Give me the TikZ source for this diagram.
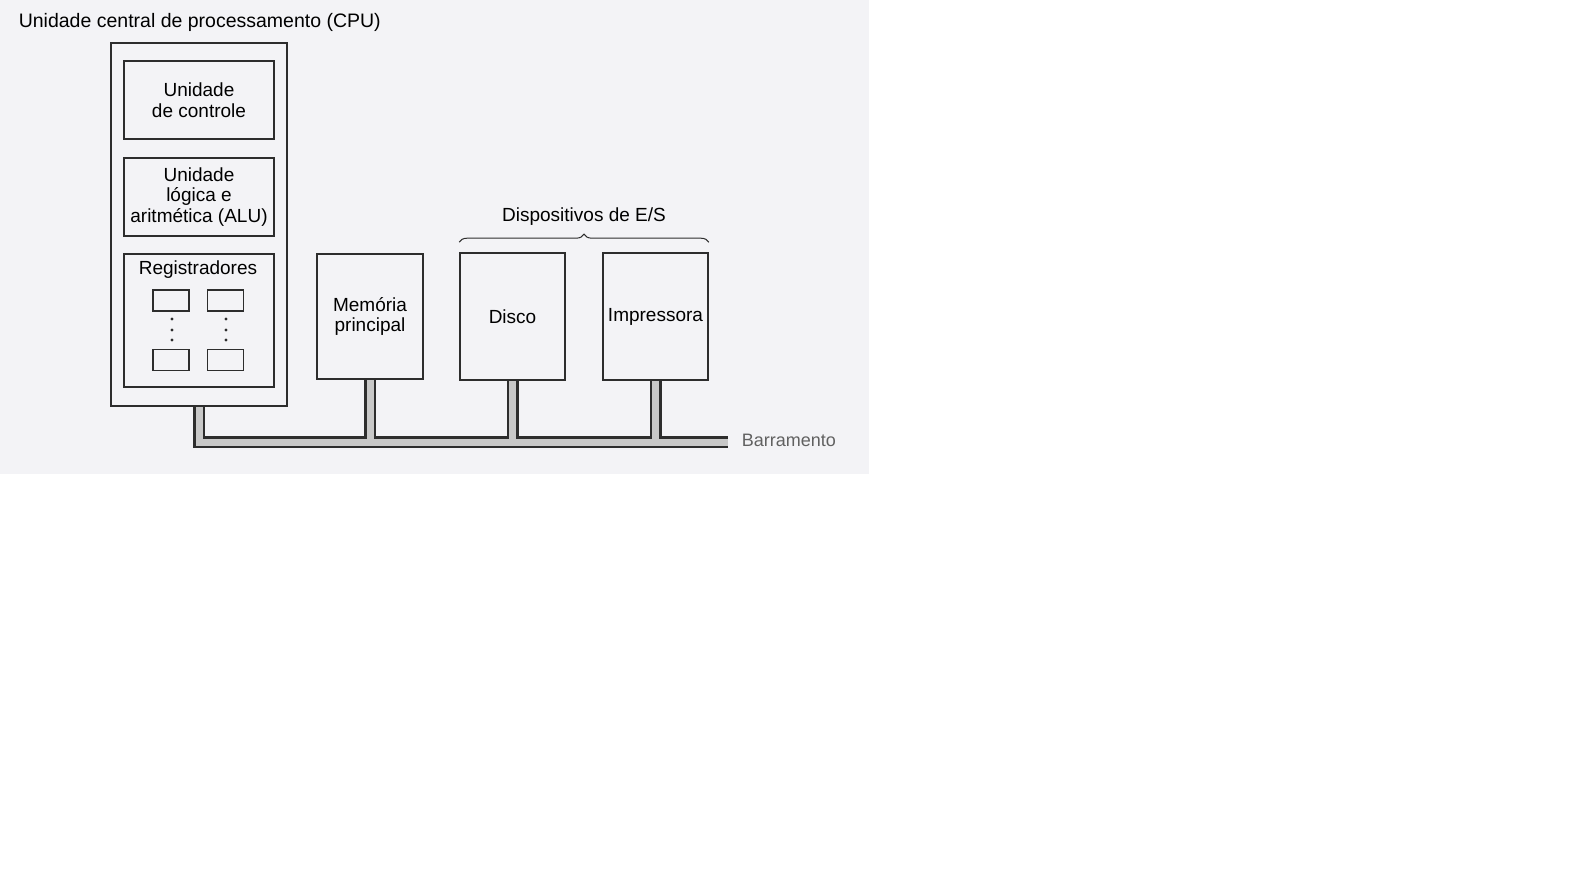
\documentclass[tikz,border=0pt]{standalone}
\usepackage{fontspec}
\setmainfont{Liberation Sans}
\usetikzlibrary{decorations.pathreplacing,backgrounds}
\definecolor{scan}{RGB}{243,243,246}
\definecolor{ink}{RGB}{45,45,45}
\definecolor{busfill}{RGB}{200,200,200}
\tikzset{every picture/.style={line width=1.6pt}}
\tikzset{
  unitbox/.style={draw=ink, fill=scan, inner sep=0pt, align=center, font=\fontsize{19}{20.5}\selectfont},
  regbox/.style={draw=ink, fill=scan, inner sep=0pt, minimum width=36pt, minimum height=21pt},
  txt/.style={inner sep=0pt, align=center, font=\fontsize{19}{20.5}\selectfont},
  busout/.style={draw=ink, line width=12pt},
  busin/.style={draw=busfill, line width=7pt}
}

\begin{document}
\begin{tikzpicture}[x=1pt,y=1pt,yscale=-1]
\useasboundingbox (0,0) rectangle (1582,874);

% CPU and its units
\node[unitbox, minimum width=176pt, minimum height=363pt] (cpu) at (199,224.5) {};
\node[unitbox, minimum width=150pt, minimum height=78pt] (ctrl) at (199,100) {Unidade\\de controle};
\node[unitbox, minimum width=150pt, minimum height=78pt] (alu) at (199,197) {Unidade\\lógica e\\aritmética (ALU)};
\node[unitbox, minimum width=150pt, minimum height=133pt] (regs) at (199,320.5) {};
\node[txt] (regslbl) at (198,270) {Registradores};

% registers
\node[regbox] (rega) at (171,300.5) {};
\node[regbox] (regb) at (225.5,300.5) {};
\node[regbox] (regc) at (171,360) {};
\node[regbox] (regd) at (225.5,360) {};
\foreach \yy in {319,330,340}{
  \fill[ink] (172,\yy) circle (1.7pt);
  \fill[ink] (226,\yy) circle (1.7pt);
}

% Memory and I/O
\node[unitbox, minimum width=106pt, minimum height=125pt] (mem) at (370,316.5) {Memória\\principal};
\node[unitbox, minimum width=105pt, minimum height=127pt] (disk) at (512.5,316.5) {Disco};
\node[unitbox, minimum width=105pt, minimum height=127pt] (prn) at (655.5,316.5) {Impressora};

% Text Node
\node[txt, anchor=west, font=\fontsize{19.5}{21}\selectfont] (title) at (18,22) {Unidade central de processamento (CPU)};
\node[txt] (iolbl) at (584,217) {Dispositivos de E/S};
\coordinate (busend) at (728,442);
\node[txt, anchor=west, text=ink!75, font=\fontsize{18}{20}\selectfont] (buslbl) at (741,440) {Barramento};

% brace over I/O devices
\coordinate (bra) at ([yshift=-10pt]disk.north west);
\coordinate (brb) at ([yshift=-10pt]prn.north east);
\draw[ink, line width=1pt, decorate, decoration={brace, amplitude=8pt}] (bra) -- (brb);

\begin{pgfonlayer}{background}
\fill[scan] (0,0) rectangle (869,474);
% bus: dark outline first, then the grey channel
\foreach \sty in {busout,busin}{
  \path[\sty] (cpu.south) -- (cpu.south |- busend) -- (busend)
    (mem.south) -- (mem.south |- busend)
    (disk.south) -- (disk.south |- busend)
    (prn.south) -- (prn.south |- busend);
}
\end{pgfonlayer}

\end{tikzpicture}
\end{document}
